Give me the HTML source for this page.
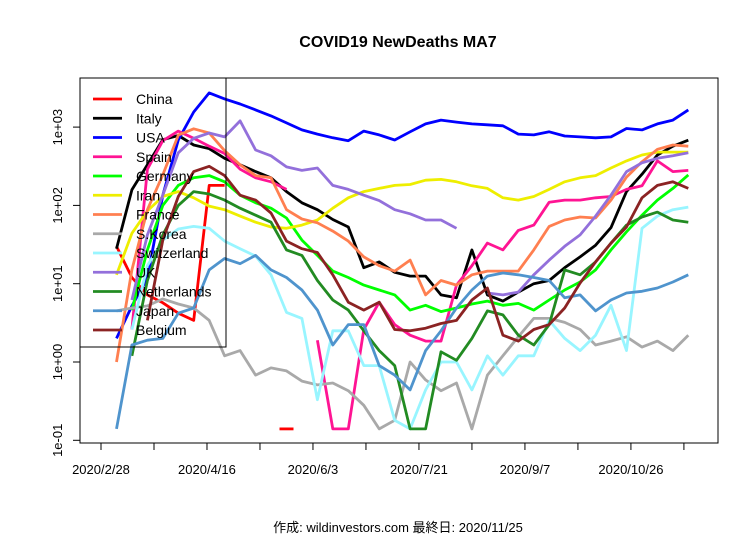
<!DOCTYPE html>
<html><head><meta charset="utf-8"><style>
body{margin:0;background:#fff;}
svg{display:block;font-family:"Liberation Sans","Noto Sans CJK JP",sans-serif;}
</style></head><body>
<svg id="chart" width="756" height="540">
<rect x="0" y="0" width="756" height="540" fill="#fff"/>
<text x="398" y="47" text-anchor="middle" font-size="16" font-weight="bold">COVID19 NewDeaths MA7</text>
<defs><clipPath id="pc"><rect x="80" y="78" width="638" height="365"/></clipPath></defs>
<g id="series" clip-path="url(#pc)"></g>
<g id="axes"></g>
<rect x="80" y="78" width="638" height="365" fill="none" stroke="#000" stroke-width="1"/>
<g id="legend"></g>
<text x="398" y="532" text-anchor="middle" font-size="13">作成: wildinvestors.com 最終日: 2020/11/25</text>
</svg>
<script>
const days = [7,14,21,28,35,42,49,56,63,70,77,84,91,98,105,112,119,126,133,140,147,154,161,168,175,182,189,196,203,210,217,224,231,238,245,252,259,266];
const seriesNames = ["China","Italy","USA","Spain","Germany","Iran","France","S.Korea","Switzerland","UK","Netherlands","Japan","Belgium"];
const seriesColors = ["#FF0000","#000000","#0000FF","#FF1493","#00FF00","#EEEE00","#FF7F50","#A9A9A9","#98F5FF","#9370DB","#228B22","#4F94CD","#8B2323"];
const china = [30,12,7.2,5.7,4.2,3.4,180,180,null,null,null,0.14,null,null,null,null,null,null,null,null,null,null,null,null,null,null,null,null,null,null,null,null,null,null,null,null,null,null];
const italy = [28,158,330,690,780,590,530,400,330,270,225,150,108,88,66,53,16,19,14,12.5,12.5,7.2,6.6,27,7.2,6,7.8,10,11,16,22,31,52,150,250,440,570,680];
const usa = [2,5.2,11.8,135,684,1560,2730,2290,1970,1660,1390,1130,920,815,730,670,890,795,685,870,1100,1230,1160,1100,1070,1040,815,795,870,770,750,730,750,960,920,1100,1230,1660];
const spain = [null,2.6,290,670,890,720,570,460,290,225,200,160,null,1.9,0.14,0.14,2.6,5.8,3,2.2,1.85,1.85,9.6,17,33,27,48,56,110,117,117,125,130,160,178,370,270,280];
const germany = [null,4.6,27,100,180,225,240,200,135,108,92,69,36,23,14.5,12,9.6,8.3,7.2,4.6,5.3,4.4,4.9,5.5,6,5.3,5.6,4.6,6.2,8.3,10.5,15,27,46,75,117,165,245];
const iran = [13,44,85,130,150,125,98,88,73,61,53,51,56,65,92,125,150,165,180,185,210,215,200,178,165,125,117,130,160,200,225,240,300,370,440,480,480,480];
const france = [1,15,88,245,790,950,840,500,330,240,225,88,67,60,47,35,22,17,14.5,20,7.2,11,9.6,13,14.5,14.5,14.5,27,54,65,71,69,117,230,360,520,590,570];
const korea = [4.5,4.9,5.2,6.4,5.5,4.9,3.4,1.2,1.4,0.68,0.84,0.77,0.57,0.51,0.54,0.43,0.28,0.14,0.18,1,0.59,0.43,0.54,0.14,0.68,1.2,2.1,3.6,3.6,3.2,2.6,1.65,1.85,2.1,1.55,1.85,1.4,2.2];
const swiss = [null,2.6,17,36,50,54,51,35,28,22.5,13,4.3,3.6,0.33,2.5,2.5,0.9,0.9,0.18,0.14,0.44,1,1,0.44,1.2,0.68,1.2,1.2,3.4,2,1.4,2.2,5.3,1.4,51,73,88,95];
const uk = [null,6.2,42,135,470,720,840,750,1200,510,430,310,280,300,180,160,135,115,88,78,65,65,51,null,7.6,7.2,7.8,13,20,30,42,73,135,270,350,400,430,470];
const netherlands = [null,1.2,11,42,100,150,140,117,92,75,61,27,23,11,6.2,4.6,2.5,1.4,0.9,0.14,0.14,1.35,1.05,2,4.5,4,2.2,1.65,3,15,13,19,33,56,71,82,65,61];
const japan = [0.14,1.65,1.9,2,4.2,4.9,15,21,18,23,15,12,8.3,4.6,1.65,3,3,0.9,0.68,0.44,1.4,2.5,4.9,8.3,12.5,13.7,13,12,11,6.6,7.2,4.5,6.2,7.6,8,8.8,10.5,13];
const belgium = [null,null,3.4,36,130,270,316,240,135,117,80,35,28,25,13,5.8,4.6,5.8,2.6,2.5,2.7,3.1,3.4,6.2,8.8,2.2,1.85,2.6,3,4.9,10.2,19,33,53,125,180,200,165];
const yTickValues = [0.1,1,10,100,1000];
const yTickLabels = ["1e-01","1e+00","1e+01","1e+02","1e+03"];
const xTickDays = [0,24,48,72,96,120,144,168,192,216,240,264];
const xTickLabels = ["2020/2/28","","2020/4/16","","2020/6/3","","2020/7/21","","2020/9/7","","2020/10/26",""];

const allSeries = [china,italy,usa,spain,germany,iran,france,korea,swiss,uk,netherlands,japan,belgium];
const NS="http://www.w3.org/2000/svg";
function xPos(d){return 101 + 2.208*d;}
function yPos(v){return 362 - 78.3*Math.log10(Math.max(v,0.14));}
function yAxis(v){return 362 - 78.3*Math.log10(v);}
const sg=document.getElementById('series');
allSeries.forEach((arr,si)=>{
  let segs=[],cur=[];
  arr.forEach((v,i)=>{
    if(v===null){ if(cur.length) segs.push(cur); cur=[]; }
    else cur.push([xPos(days[i]),yPos(v)]);
  });
  if(cur.length) segs.push(cur);
  segs.forEach(s=>{
    if(s.length===1) s=[[s[0][0]-7,s[0][1]],[s[0][0]+7,s[0][1]]];
    const p=document.createElementNS(NS,'polyline');
    p.setAttribute('points',s.map(q=>q[0].toFixed(1)+','+q[1].toFixed(1)).join(' '));
    p.setAttribute('fill','none');
    p.setAttribute('stroke',seriesColors[si]);
    p.setAttribute('stroke-width','2.8');
    p.setAttribute('stroke-linejoin','round');
    
    
    sg.appendChild(p);
  });
});
const ag=document.getElementById('axes');
yTickValues.forEach((v,i)=>{
  const yy=yAxis(v);
  const l=document.createElementNS(NS,'line');
  l.setAttribute('x1',73);l.setAttribute('x2',80);l.setAttribute('y1',yy);l.setAttribute('y2',yy);
  l.setAttribute('stroke','#000');
  
  
  ag.appendChild(l);
  const t=document.createElementNS(NS,'text');
  t.setAttribute('x',0);t.setAttribute('y',0);
  t.setAttribute('transform','translate(62,'+yy+') rotate(-90)');
  t.setAttribute('text-anchor','middle');t.setAttribute('font-size','13');
  t.textContent=yTickLabels[i];
  
  
  ag.appendChild(t);
});
xTickDays.forEach((d,i)=>{
  const x=xPos(d);
  const l=document.createElementNS(NS,'line');
  l.setAttribute('x1',x);l.setAttribute('x2',x);l.setAttribute('y1',443);l.setAttribute('y2',450);
  l.setAttribute('stroke','#000');
  
  
  ag.appendChild(l);
  if(xTickLabels[i]){
    const t=document.createElementNS(NS,'text');
    t.setAttribute('x',x);t.setAttribute('y',474);
    t.setAttribute('text-anchor','middle');t.setAttribute('font-size','13');
    t.textContent=xTickLabels[i];
    
    
    ag.appendChild(t);
  }
});
const lg=document.getElementById('legend');
const box=document.createElementNS(NS,'rect');
box.setAttribute('x',80);box.setAttribute('y',78);box.setAttribute('width',146);box.setAttribute('height',269);
box.setAttribute('fill','none');box.setAttribute('stroke','#000');


lg.appendChild(box);
seriesNames.forEach((n,i)=>{
  const y=99+i*19.25;
  const l=document.createElementNS(NS,'line');
  l.setAttribute('x1',93);l.setAttribute('x2',122);l.setAttribute('y1',y);l.setAttribute('y2',y);
  l.setAttribute('stroke',seriesColors[i]);l.setAttribute('stroke-width','2.8');
  
  
  lg.appendChild(l);
  const t=document.createElementNS(NS,'text');
  t.setAttribute('x',136);t.setAttribute('y',y+5);t.setAttribute('font-size','14');
  t.textContent=n;
  
  
  lg.appendChild(t);
});
</script>
</body></html>
